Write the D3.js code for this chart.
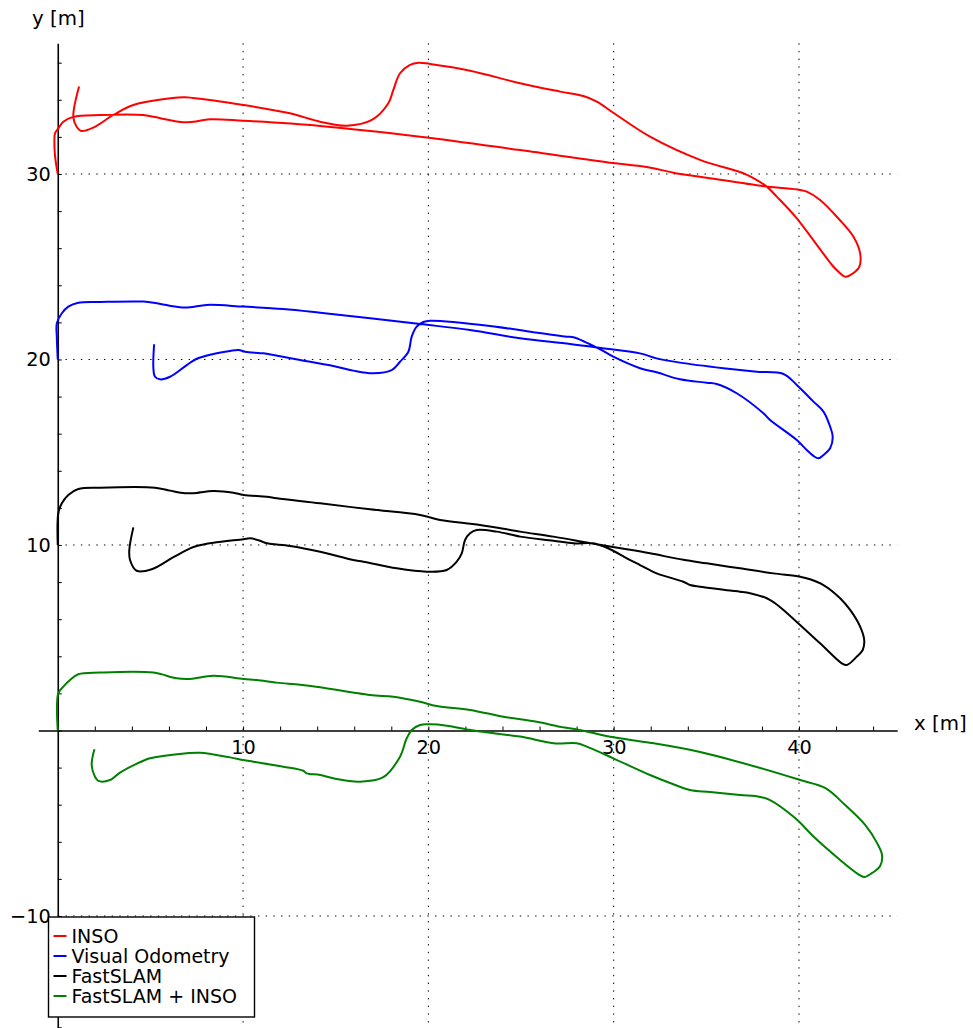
<!DOCTYPE html>
<html>
<head>
<meta charset="utf-8">
<script src="https://cdn.jsdelivr.net/npm/d3@7"></script>
<style>
  html, body { margin: 0; padding: 0; background: #fff; }
  svg { display: block; font-family: "DejaVu Sans", sans-serif; }
</style>
</head>
<body>
<svg id="chart" width="973" height="1028"></svg>
<script>
// Trajectories [x, y] in metres; each run is drawn with its own y offset.
const insoPath = [
  [0.0, 30.0], [-0.15, 31.0], [-0.18, 31.83], [-0.15, 32.19], [0.03, 32.46], [0.3, 32.82],
  [0.84, 33.08], [2.28, 33.18], [4.62, 33.18], [5.16, 33.08], [6.78, 32.79], [7.32, 32.82],
  [8.22, 32.95], [10.02, 32.87], [14.16, 32.59], [19.56, 32.01], [24.95, 31.29],
  [29.97, 30.59], [31.42, 30.43], [32.14, 30.31], [33.22, 30.07], [35.02, 29.8],
  [38.26, 29.32], [40.06, 29.14], [40.42, 29.05], [41.14, 28.6], [42.2, 27.52],
  [42.94, 26.62], [43.3, 25.72], [43.26, 25.0], [43.03, 24.73], [42.49, 24.46],
  [42.22, 24.65], [41.86, 25.0], [39.88, 27.61], [38.8, 28.78], [38.26, 29.32],
  [37.54, 29.77], [37.0, 30.04], [34.66, 30.76], [31.96, 32.01], [29.98, 33.3],
  [29.09, 33.9], [28.36, 34.2], [27.11, 34.44], [24.95, 34.89], [22.25, 35.57],
  [20.09, 35.93], [19.46, 36.0], [19.01, 35.88], [18.47, 35.43], [18.11, 34.53],
  [17.84, 33.81], [16.95, 32.91], [15.6, 32.6], [14.16, 32.82], [12.53, 33.27],
  [10.02, 33.72], [7.3, 34.1], [6.78, 34.13], [4.08, 33.72], [3.0, 33.18],
  [1.92, 32.5], [1.26, 32.32], [1.02, 32.55], [0.84, 33.08], [1.15, 34.71]
];

const voPath = [
  [0.0, 20.0], [-0.05, 21.2], [-0.05, 21.95], [0.22, 22.49], [0.57, 22.85], [1.11, 23.06],
  [2.28, 23.1], [4.62, 23.12], [5.34, 23.03], [6.6, 22.81], [7.14, 22.81], [8.04, 22.94],
  [10.02, 22.85], [12.17, 22.72], [14.16, 22.52], [19.56, 21.91], [22.25, 21.59],
  [24.95, 21.14], [27.65, 20.84], [29.09, 20.64], [31.42, 20.33], [32.32, 20.06],
  [33.58, 19.83], [35.92, 19.53], [37.72, 19.34], [39.16, 19.22], [39.88, 18.63],
  [40.78, 17.73], [41.32, 17.19], [41.68, 16.38], [41.82, 15.84], [41.68, 15.21],
  [41.32, 14.85], [41.05, 14.67], [40.78, 14.8], [40.42, 15.12], [39.88, 15.66],
  [38.44, 16.74], [38.08, 17.1], [36.64, 18.18], [35.56, 18.68], [35.02, 18.75],
  [33.58, 18.93], [32.32, 19.31], [31.42, 19.53], [29.98, 20.15], [29.27, 20.55],
  [27.83, 21.2], [27.47, 21.23], [25.67, 21.47], [23.33, 21.81], [20.09, 22.09],
  [19.73, 22.02], [19.37, 21.77], [19.1, 21.23], [18.92, 20.42], [18.47, 19.88],
  [18.02, 19.43], [17.03, 19.26], [15.95, 19.4], [14.87, 19.65], [13.08, 19.97],
  [11.64, 20.24], [11.1, 20.33], [10.11, 20.42], [9.75, 20.51], [9.3, 20.46],
  [8.4, 20.3], [7.5, 20.04], [6.96, 19.7], [6.06, 19.07], [5.52, 18.93], [5.25, 19.07],
  [5.16, 19.53], [5.2, 20.82]
];

const slamPath = [
  [0.0, 10.0], [0.03, 11.71], [0.22, 12.25], [0.57, 12.7], [1.11, 13.02], [2.28, 13.09],
  [5.25, 13.09], [6.06, 12.93], [6.87, 12.79], [7.32, 12.79], [8.4, 12.91], [9.48, 12.82],
  [10.02, 12.7], [11.28, 12.6], [11.82, 12.52], [14.16, 12.25], [16.85, 11.92],
  [19.55, 11.62], [20.63, 11.35], [22.79, 11.08], [24.95, 10.72], [26.75, 10.45],
  [28.55, 10.13], [29.09, 10.04], [30.71, 9.77], [31.96, 9.55], [33.76, 9.2],
  [35.02, 9.01], [36.82, 8.74], [38.62, 8.47], [40.06, 8.29], [40.6, 8.15],
  [41.32, 7.84], [42.22, 7.13], [42.76, 6.5], [43.3, 5.6], [43.52, 4.88], [43.44, 4.34],
  [43.12, 3.98], [42.58, 3.53], [42.31, 3.62], [41.14, 4.7], [40.06, 5.69], [39.16, 6.5],
  [38.71, 6.86], [38.26, 7.13], [37.36, 7.4], [36.82, 7.48], [36.28, 7.54], [35.74, 7.61],
  [34.66, 7.75], [34.12, 7.84], [33.76, 8.02], [32.32, 8.47], [31.42, 8.92],
  [30.71, 9.28], [29.81, 9.77], [28.9, 10.09], [27.83, 10.09], [26.75, 10.23],
  [24.95, 10.45], [23.69, 10.72], [22.61, 10.81], [22.25, 10.63], [21.98, 10.27],
  [21.8, 9.55], [21.53, 9.1], [20.99, 8.65], [19.91, 8.56], [18.29, 8.74], [16.49, 9.1],
  [15.95, 9.19], [14.16, 9.64], [12.54, 9.95], [11.28, 10.09], [10.92, 10.23],
  [10.38, 10.36], [10.02, 10.31], [8.4, 10.12], [7.5, 9.95], [7.14, 9.82], [6.24, 9.34],
  [5.07, 8.69], [4.26, 8.61], [3.9, 9.19], [3.86, 9.73], [4.08, 10.95]
];

const slamInsoPath = [
  [0.0, 0.0], [0.03, 2.0], [0.3, 2.36], [0.66, 2.72], [1.11, 3.03], [2.28, 3.12],
  [5.16, 3.12], [6.42, 2.81], [7.14, 2.78], [8.4, 2.95], [10.02, 2.78], [10.74, 2.72],
  [11.82, 2.58], [13.08, 2.47], [14.16, 2.33], [16.85, 1.91], [18.11, 1.82],
  [19.55, 1.55], [20.45, 1.32], [22.25, 1.11], [24.05, 0.74], [25.85, 0.47],
  [27.11, 0.2], [28.36, -0.01], [29.98, -0.37], [31.96, -0.66], [34.66, -1.16],
  [37.9, -2.02], [40.06, -2.67], [41.41, -3.1], [42.49, -4.02], [43.57, -5.09],
  [44.21, -6.06], [44.48, -6.71], [44.38, -7.31], [43.95, -7.68], [43.52, -7.9],
  [43.19, -7.74], [42.22, -6.98], [40.87, -5.8], [39.79, -4.72], [38.44, -3.75],
  [37.9, -3.58], [36.82, -3.48], [35.2, -3.32], [34.12, -3.21], [33.04, -2.83],
  [31.96, -2.4], [29.98, -1.5], [28.55, -0.87], [28.0, -0.69], [26.75, -0.69],
  [24.95, -0.33], [22.79, -0.06], [22.07, 0.06], [20.99, 0.26], [20.09, 0.33],
  [19.55, 0.3], [19.1, 0.03], [18.83, -0.42], [18.47, -1.41], [17.57, -2.52],
  [16.31, -2.76], [14.87, -2.58], [14.16, -2.4], [13.44, -2.31], [13.25, -2.17],
  [12.17, -1.95], [10.56, -1.68], [10.02, -1.59], [9.3, -1.45], [7.68, -1.2],
  [6.96, -1.23], [4.98, -1.5], [4.62, -1.63], [3.36, -2.27], [2.82, -2.67],
  [2.19, -2.72], [2.01, -2.49], [1.83, -1.86], [1.98, -1.01]
];

const seriesNames = ["INSO", "Visual Odometry", "FastSLAM", "FastSLAM + INSO"];
const seriesColors = ["#ff0000", "#0000ff", "#000000", "#008000"];
const seriesPaths = [insoPath, voPath, slamPath, slamInsoPath];

const xTickValues = d3.range(0, 46, 2);
const yTickValues = d3.range(-16, 37, 2);
const xLabelValues = [10, 20, 30, 40];
const yLabelValues = [-10, 10, 20, 30];
const xGridValues = [10, 20, 30, 40];
const yGridValues = [-10, 10, 20, 30];

const svg = d3.select("#chart");
const TICK_FONT = 19.3;
const TEXT_FONT = 19.8;
const LEGEND_FONT = 19;

const x = d3.scaleLinear().domain([-1.05, 45.3]).range([38.3, 897.2]);
const y = d3.scaleLinear().domain([-16.2, 37.05]).range([1031.0, 43.2]);

// dotted grid
const grid = svg.append("g").attr("stroke", "#000").attr("stroke-width", 1)
  .attr("stroke-dasharray", "1.4,6.3");
grid.selectAll("line.gx").data(xGridValues).join("line")
  .attr("x1", d => x(d)).attr("x2", d => x(d))
  .attr("y1", y.range()[1]).attr("y2", y.range()[0]);
grid.selectAll("line.gy").data(yGridValues).join("line")
  .attr("x1", x(0)).attr("x2", x.range()[1])
  .attr("y1", d => y(d)).attr("y2", d => y(d));

// axes crossing at the origin
const fmtX = d => xLabelValues.includes(d) ? d3.format("d")(d) : "";
const fmtY = d => yLabelValues.includes(d) ? d3.format("d")(d) : "";

const xAxis = svg.append("g").attr("transform", `translate(0,${y(0)})`)
  .call(d3.axisBottom(x).tickValues(xTickValues).tickFormat(fmtX)
    .tickSizeInner(-4).tickSizeOuter(0).tickPadding(10));
const yAxis = svg.append("g").attr("transform", `translate(${x(0)},0)`)
  .call(d3.axisLeft(y).tickValues(yTickValues).tickFormat(fmtY)
    .tickSizeInner(-4).tickSizeOuter(0).tickPadding(7));

[xAxis, yAxis].forEach(g => {
  g.select(".domain").attr("stroke", "#000").attr("stroke-width", 1.6);
  g.selectAll(".tick line").attr("stroke", "#000").attr("stroke-width", 1);
  g.selectAll(".tick text").attr("fill", "#000")
    .attr("font-family", "DejaVu Sans").attr("font-size", TICK_FONT);
});

svg.append("text").attr("x", 914).attr("y", 730).attr("font-size", TEXT_FONT)
  .attr("fill", "#000").text("x [m]");
svg.append("text").attr("x", 32).attr("y", 25).attr("font-size", TEXT_FONT)
  .attr("fill", "#000").text("y [m]");

// trajectories
const line = d3.line().x(d => x(d[0])).y(d => y(d[1]))
  .curve(d3.curveCatmullRom.alpha(0.5));
svg.append("g").selectAll("path").data(seriesPaths).join("path")
  .attr("d", line)
  .attr("fill", "none")
  .attr("stroke", (d, i) => seriesColors[i])
  .attr("stroke-width", 2)
  .attr("stroke-linejoin", "round")
  .attr("stroke-linecap", "butt");

// legend
const legend = svg.append("g").attr("transform", "translate(48.5,917)");
legend.append("rect").attr("width", 206).attr("height", 100)
  .attr("fill", "#fff").attr("stroke", "#000").attr("stroke-width", 1.4);
const item = legend.selectAll("g.item").data(seriesNames).join("g")
  .attr("transform", (d, i) => `translate(0,${19 + i * 20})`);
item.append("line").attr("x1", 5).attr("x2", 18).attr("y1", 0).attr("y2", 0)
  .attr("stroke", (d, i) => seriesColors[i]).attr("stroke-width", 2);
item.append("text").attr("x", 23).attr("y", 7).attr("font-size", LEGEND_FONT)
  .attr("fill", "#000").text(d => d);
</script>
</body>
</html>
